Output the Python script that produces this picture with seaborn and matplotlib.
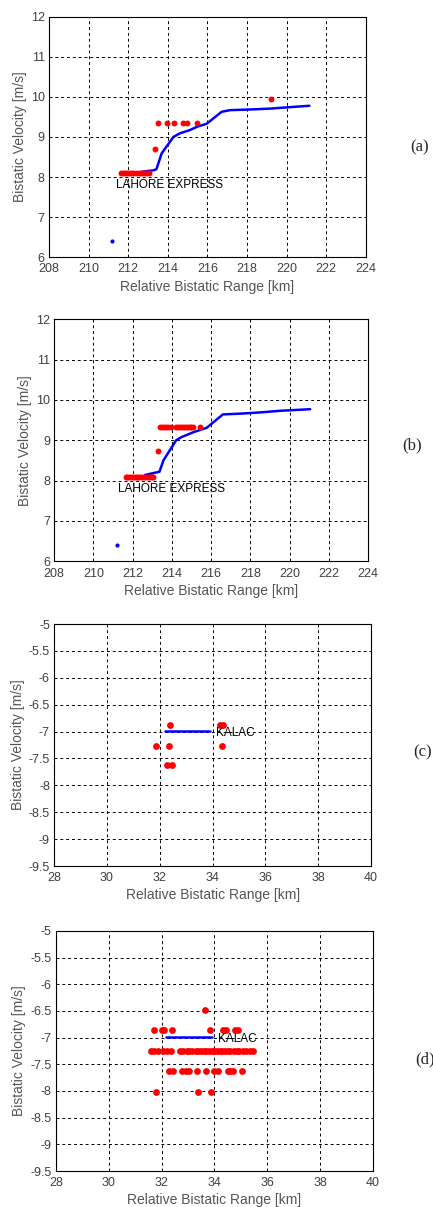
import numpy as np
import pandas as pd
import matplotlib
matplotlib.use("Agg")
import matplotlib.pyplot as plt
import seaborn as sns
from matplotlib.ticker import FormatStrFormatter

sns.set_style("white")
plt.rcParams['font.family'] = ['Liberation Sans', 'DejaVu Sans']

# ---- panel (a) / (b): LAHORE EXPRESS ----
track_a_x = [212.68, 213.3, 213.43, 213.69, 214.28, 214.6, 215.1, 215.5, 215.96, 216.72, 217.14, 218.3, 219.2, 220.0, 221.15]
track_a_y = [8.13, 8.17, 8.2, 8.59, 9.0, 9.09, 9.17, 9.26, 9.33, 9.63, 9.67, 9.69, 9.71, 9.74, 9.78]
track_b_x = [212.64, 213.37, 213.57, 214.22, 214.5, 215.1, 215.78, 216.6, 217.5, 218.5, 219.5, 221.05]
track_b_y = [8.14, 8.22, 8.5, 9.0, 9.08, 9.2, 9.31, 9.64, 9.66, 9.69, 9.73, 9.77]
start_ab_x = [211.2]
start_ab_y = [6.41]

det_a_x = [211.65, 211.75, 211.85, 211.95, 212.05, 212.15, 212.25, 212.4, 212.55, 212.65,
           212.75, 212.85, 212.95, 213.05, 213.35,
           213.52, 213.94, 214.31, 214.75, 214.98, 215.46, 219.2]
det_a_y = [8.09] * 14 + [8.71] + [9.34] * 6 + [9.95]

det_b_x = [211.65, 211.72, 211.8, 211.9, 212.0, 212.1, 212.2, 212.3, 212.4, 212.5, 212.6,
           212.7, 212.8, 212.9, 213.0, 213.06, 213.31,
           213.42, 213.52, 213.62, 213.72, 213.82, 213.95,
           214.2, 214.3, 214.4, 214.5, 214.6, 214.7, 214.8, 214.9, 215.0, 215.08, 215.42]
det_b_y = [8.09] * 16 + [8.73] + [9.33] * 17

# ---- panel (c) / (d): KALAC ----
track_cd_x = [32.18, 33.92]
track_cd_y = [-6.99, -6.99]

det_c_x = [32.4, 31.85, 32.34, 32.27, 32.45, 34.28, 34.41, 34.35]
det_c_y = [-6.87, -7.26, -7.26, -7.63, -7.63, -6.87, -6.87, -7.26]

row_d1_x = [31.71, 32.02, 32.1, 32.4, 33.83, 34.31, 34.44, 34.78, 34.9]
row_d2_x = [31.6, 31.72, 31.85, 32.05, 32.2, 32.35,
            32.7, 32.8, 32.95, 33.05, 33.15, 33.3, 33.4, 33.5, 33.6, 33.7, 33.8, 33.9,
            34.0, 34.1, 34.2, 34.3, 34.4, 34.5, 34.6, 34.75, 34.85, 34.95, 35.1, 35.2,
            35.35, 35.45]
row_d3_x = [32.29, 32.44, 32.76, 32.92, 33.05, 33.35, 33.68, 33.98, 34.14, 34.52, 34.61, 34.71, 35.03]
row_d4_x = [31.79, 33.4, 33.87]
det_d_x = row_d1_x + [33.65] + row_d2_x + row_d3_x + row_d4_x
det_d_y = ([-6.86] * len(row_d1_x) + [-6.49] + [-7.26] * len(row_d2_x)
           + [-7.63] * len(row_d3_x) + [-8.02] * len(row_d4_x))

fig = plt.figure(figsize=(4.33, 12.07), dpi=100)
rects = [[0.113, 0.787, 0.732, 0.199],
         [0.125, 0.535, 0.725, 0.2005],
         [0.125, 0.2825, 0.732, 0.2005],
         [0.129, 0.0298, 0.732, 0.199]]

panels = [
    (track_a_x, track_a_y, det_a_x, det_a_y, "LAHORE EXPRESS", (211.37, 7.8), 18),
    (track_b_x, track_b_y, det_b_x, det_b_y, "LAHORE EXPRESS", (211.28, 7.8), 18),
    (track_cd_x, track_cd_y, det_c_x, det_c_y, "KALAC", (34.14, -7.03), 24),
    (track_cd_x, track_cd_y, det_d_x, det_d_y, "KALAC", (34.14, -7.03), 24),
]
tags = [("(a)", 410, 147), ("(b)", 402, 445), ("(c)", 413, 752), ("(d)", 415, 1059)]

for i, (tx, ty, dx, dy, name, pos, ms) in enumerate(panels):
    ax = fig.add_axes(rects[i])
    sns.lineplot(x=tx, y=ty, ax=ax, color="blue", linewidth=1.8, sort=False, estimator=None)
    if i < 2:
        sns.scatterplot(x=start_ab_x, y=start_ab_y, ax=ax, color="blue", s=9, linewidth=0)
    sns.scatterplot(x=dx, y=dy, ax=ax, color="red", s=ms, linewidth=0, zorder=3)
    ax.text(pos[0], pos[1], name, fontsize=8.5, ha="left", va="center", color="black")
    if i < 2:
        ax.set_xlim(208, 224)
        ax.set_ylim(6, 12)
        ax.set_xticks(np.arange(208, 225, 2))
        ax.set_yticks(np.arange(6, 13, 1))
    else:
        ax.set_xlim(28, 40)
        ax.set_ylim(-9.5, -5)
        ax.set_xticks(np.arange(28, 41, 2))
        ax.set_yticks(np.arange(-9.5, -4.9, 0.5))
    ax.yaxis.set_major_formatter(FormatStrFormatter('%g'))
    ax.grid(True, color="black", linestyle=(0, (3, 3)), linewidth=0.7)
    for s in ax.spines.values():
        s.set_color("black")
        s.set_linewidth(0.8)
    ax.tick_params(direction="in", length=2, labelsize=9, labelcolor="#404040", pad=3)
    ax.tick_params(axis="x", pad=4.5)
    ax.set_xlabel("Relative Bistatic Range [km]", fontsize=10, color="#555555", labelpad=3)
    ax.set_ylabel("Bistatic Velocity [m/s]", fontsize=10, color="#555555", labelpad=3)
    t, x0, y0 = tags[i]
    fig.text(x0 / 433, 1 - y0 / 1207, t, fontsize=12, family="Liberation Serif",
             ha="left", va="center")

fig.savefig("out.png", dpi=100)
